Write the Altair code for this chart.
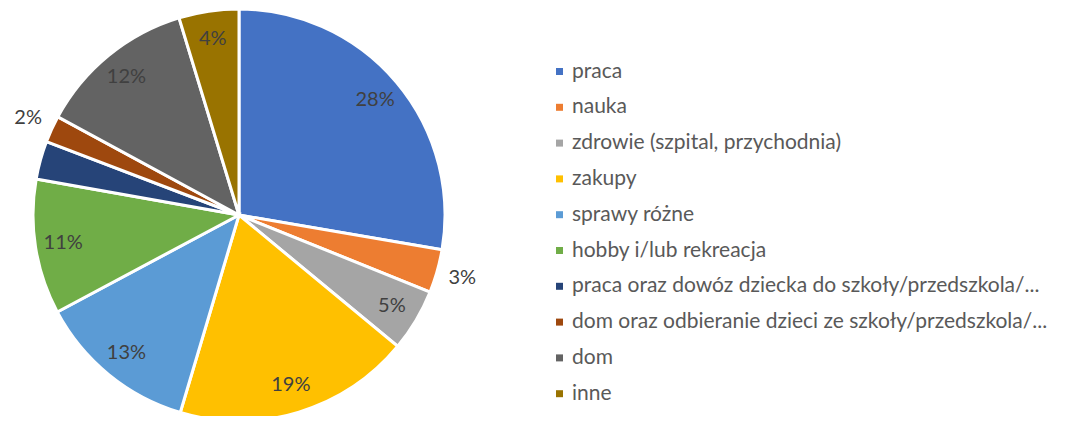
import altair as alt
import pandas as pd

categories = [
    "praca",
    "nauka",
    "zdrowie (szpital, przychodnia)",
    "zakupy",
    "sprawy różne",
    "hobby i/lub rekreacja",
    "praca oraz dowóz dziecka do szkoły/przedszkola/...",
    "dom oraz odbieranie dzieci ze szkoły/przedszkola/...",
    "dom",
    "inne",
]
values = [27.7, 3.4, 4.9, 18.6, 12.6, 10.6, 3.0, 2.1, 12.4, 4.7]
inside_labels = ["28%", "", "5%", "19%", "13%", "11%", "", "", "12%", "4%"]
outside_labels = ["", "3%", "", "", "", "", "", "2%", "", ""]
colors = ["#4472C4", "#ED7D31", "#A5A5A5", "#FFC000", "#5B9BD5",
          "#70AD47", "#264478", "#9E480E", "#636363", "#997300"]

df = pd.DataFrame({
    "cat": categories,
    "value": values,
    "idx": list(range(len(categories))),
    "lin": inside_labels,
    "lout": outside_labels,
})

FONT = "Lato"
TOTAL = sum(values)
CX, CY = 231, 207

arcs = alt.Chart(df).mark_arc(outerRadius=206, stroke="white", strokeWidth=3).encode(
    x=alt.value(CX),
    y=alt.value(CY),
    theta=alt.Theta("value:Q", stack=True, scale=alt.Scale(domain=[0, TOTAL])),
    order=alt.Order("idx:Q"),
    color=alt.Color(
        "cat:N",
        scale=alt.Scale(domain=categories, range=colors),
        sort=categories,
        legend=alt.Legend(
            title=None,
            orient="none",
            legendX=541,
            legendY=53,
            symbolType="square",
            symbolSize=49,
            symbolStrokeWidth=0,
            labelFont=FONT,
            labelFontSize=21,
            labelColor="#595959",
            labelLimit=700,
            rowPadding=13.8,
            labelOffset=2,
        ),
    ),
)

label_base = alt.Chart(df).transform_window(
    cum="sum(value)", sort=[alt.SortField("idx")]
).transform_calculate(
    mid="datum.cum - datum.value / 2"
)

text_in = label_base.transform_filter("datum.lin != ''").mark_text(
    radius=178, font=FONT, fontSize=20, color="#404040"
).encode(
    x=alt.value(CX),
    y=alt.value(CY),
    theta=alt.Theta("mid:Q", stack=None),
    text="lin:N",
)
text_out = label_base.transform_filter("datum.lout != ''").mark_text(
    radius=232, font=FONT, fontSize=20, color="#404040"
).encode(
    x=alt.value(CX),
    y=alt.value(CY),
    theta=alt.Theta("mid:Q", stack=None),
    text="lout:N",
)

chart = (
    alt.layer(arcs, text_in, text_out)
    .properties(
        width=1064,
        height=408,
        padding=0,
        autosize="none",
        view=alt.ViewBackground(stroke="transparent", strokeWidth=0),
    )
    .configure_view(stroke="transparent", strokeWidth=0)
    .configure(background="white")
)

chart.save("out.html", embed_options={"renderer": "svg", "actions": False})
